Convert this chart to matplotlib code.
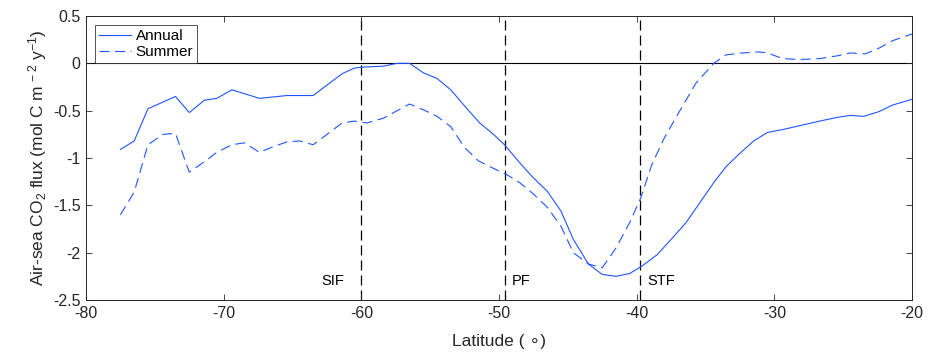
import matplotlib
matplotlib.use("Agg")
import matplotlib.pyplot as plt
from matplotlib.ticker import FuncFormatter

lat_annual = [-77.5,-76.5,-75.5,-73.5,-72.5,-71.4,-70.5,-69.4,-68.5,-67.4,-65.4,-63.5,-61.4,-60.5,-59.9,
              -58.4,-57.4,-56.5,-55.5,-54.5,-53.5,-52.5,-51.4,-50.4,-49.6,-48.5,-47.5,-46.5,-45.5,-44.6,
              -43.5,-42.5,-41.5,-40.5,-39.6,-38.5,-37.5,-36.4,-35.4,-34.4,-33.5,-32.5,-31.5,-30.5,-29.4,
              -28.2,-26.7,-25.4,-24.5,-23.5,-22.4,-21.4,-20.0]
flux_annual = [-0.91,-0.82,-0.48,-0.35,-0.52,-0.39,-0.37,-0.28,-0.32,-0.37,-0.34,-0.34,-0.11,-0.05,-0.04,
               -0.03,0.0,0.0,-0.10,-0.16,-0.28,-0.45,-0.63,-0.75,-0.86,-1.05,-1.21,-1.35,-1.56,-1.86,
               -2.12,-2.23,-2.25,-2.22,-2.14,-2.02,-1.86,-1.68,-1.47,-1.26,-1.09,-0.95,-0.82,-0.73,-0.70,
               -0.66,-0.61,-0.57,-0.55,-0.56,-0.51,-0.44,-0.38]

lat_summer = [-77.5,-76.5,-75.5,-74.4,-73.5,-72.5,-71.4,-70.5,-69.4,-68.5,-67.4,-66.4,-65.4,-64.5,-63.5,
              -62.4,-61.4,-60.5,-59.6,-58.4,-57.4,-56.5,-55.5,-54.5,-53.5,-52.5,-51.5,-50.4,-49.5,-48.5,
              -47.5,-46.5,-45.5,-44.6,-43.5,-42.5,-41.5,-40.5,-39.7,-38.9,-38.0,-36.9,-35.7,-34.4,-33.5,
              -32.3,-31.1,-30.5,-29.4,-28.2,-26.7,-25.4,-24.5,-23.4,-22.4,-21.4,-20.0]
flux_summer = [-1.60,-1.36,-0.86,-0.75,-0.74,-1.15,-1.04,-0.94,-0.86,-0.84,-0.94,-0.88,-0.83,-0.82,-0.86,
               -0.74,-0.63,-0.61,-0.63,-0.58,-0.50,-0.43,-0.49,-0.56,-0.67,-0.89,-1.03,-1.11,-1.17,-1.26,
               -1.38,-1.52,-1.72,-2.00,-2.12,-2.16,-1.95,-1.68,-1.42,-1.07,-0.79,-0.51,-0.21,0.0,0.09,
               0.11,0.12,0.11,0.05,0.04,0.05,0.08,0.11,0.10,0.16,0.24,0.31]

front_lats = [-60.0, -49.6, -39.75]
front_names = ["SIF", "PF", "STF"]

x_ticks = [-80, -70, -60, -50, -40, -30, -20]
y_ticks = [-2.5, -2, -1.5, -1, -0.5, 0, 0.5]

plt.rcParams['font.family'] = ['Liberation Sans', 'DejaVu Sans']
plt.rcParams['mathtext.default'] = 'regular'

axc = '#262626'
blue = '#1f55ff'

fig = plt.figure(figsize=(9.32, 3.53), dpi=100)
ax = fig.add_axes([86/932, 1-300/353, (912-86)/932, (300-16)/353])

ax.plot(lat_annual, flux_annual, color=blue, lw=0.8, label='Annual')
ax.plot(lat_summer, flux_summer, color=blue, lw=0.8, ls=(0, (9, 5)), label='Summer')
ax.axhline(0, color='black', lw=0.8, zorder=1)

for fl, nm in zip(front_lats, front_names):
    ax.axvline(fl, color='black', lw=0.9, ls=(0, (8, 4)), zorder=1)
    if nm == "SIF":
        ax.text(fl - 1.25, -2.3, nm, ha='right', va='center', fontsize=10.5, color='black')
    else:
        ax.text(fl + 0.55, -2.3, nm, ha='left', va='center', fontsize=10.5, color='black')

ax.set_xlim(-80, -20)
ax.set_ylim(-2.5, 0.5)
ax.set_xticks(x_ticks)
ax.set_yticks(y_ticks)

def fmt(v, pos):
    return '%g' % v
ax.xaxis.set_major_formatter(FuncFormatter(fmt))
ax.yaxis.set_major_formatter(FuncFormatter(fmt))

ax.tick_params(direction='in', length=4, width=0.6, colors=axc, labelsize=11.5,
               top=True, right=True, labelcolor=axc, pad=4)
for s in ax.spines.values():
    s.set_color(axc)
    s.set_linewidth(0.7)

ax.set_xlabel('Latitude ( \u2218)', fontsize=12.5, color=axc, labelpad=10)
ax.set_ylabel('Air-sea CO$_2$ flux (mol C m$^{\\,-2}$ y$^{-1}$)', fontsize=12.5, color=axc, labelpad=3)

leg = ax.legend(loc='upper left', fontsize=11, frameon=True, fancybox=False,
                edgecolor=axc, borderpad=0.25, handlelength=2.1, handletextpad=0.3,
                labelspacing=0.15, borderaxespad=0.6)
leg.get_frame().set_linewidth(0.7)

fig.savefig('out.png', dpi=100)
